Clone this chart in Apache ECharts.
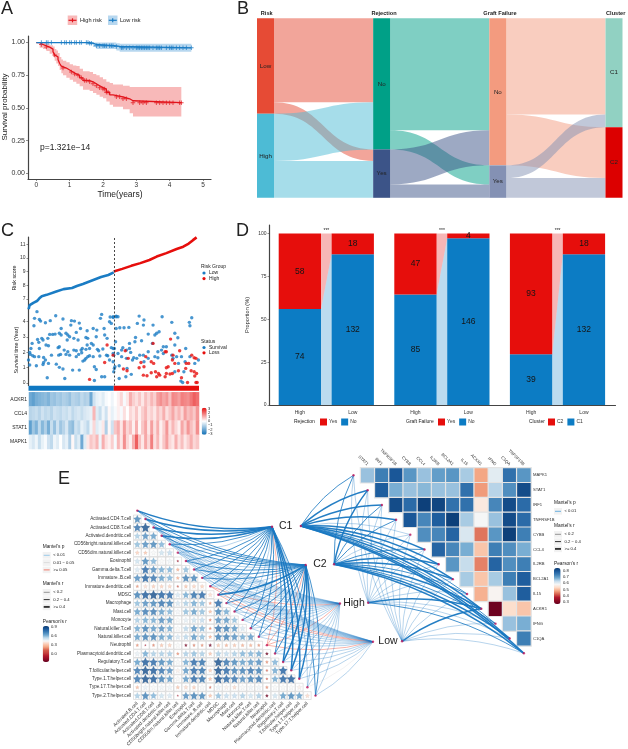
<!DOCTYPE html>
<html>
<head>
<meta charset="utf-8">
<style>html,body{margin:0;padding:0;background:#fff}#main{width:628px;height:749px}</style>
<script src="https://cdn.jsdelivr.net/npm/echarts@6/dist/echarts.min.js"></script>
</head>
<body>
<div id="main"></div>
<script>
// ---- panel A: survival
var highTime  = [0,0.1,0.2,0.3,0.4,0.5,0.55,0.6,0.65,0.7,0.75,0.8,0.9,1.0,1.1,1.2,1.3,1.4,1.6,1.7,1.8,1.9,2.0,2.1,2.2,2.3,2.6,2.8,2.9,4.35];
var highSurv  = [1,0.985,0.975,0.965,0.95,0.93,0.905,0.89,0.87,0.84,0.82,0.805,0.79,0.775,0.76,0.75,0.73,0.71,0.70,0.685,0.67,0.655,0.645,0.62,0.60,0.585,0.57,0.555,0.54,0.54];
var highUpper = [1,1,1,0.99,0.98,0.97,0.95,0.94,0.92,0.89,0.87,0.86,0.85,0.835,0.825,0.82,0.80,0.78,0.775,0.76,0.75,0.735,0.72,0.70,0.69,0.68,0.67,0.66,0.66,0.66];
var highLower = [1,0.96,0.95,0.935,0.915,0.89,0.86,0.84,0.82,0.79,0.765,0.75,0.73,0.715,0.70,0.685,0.665,0.64,0.63,0.615,0.60,0.585,0.575,0.55,0.525,0.51,0.49,0.46,0.435,0.435];
var highCensor = [0.15,0.3,0.55,0.8,1.05,1.15,1.25,1.35,1.45,1.5,1.6,1.7,1.8,1.9,2.0,2.05,2.1,2.15,2.4,2.5,2.6,2.7,2.9,3.1,3.2,3.3,3.6,3.7,3.8,3.9,4.0,4.1,4.3,4.35];
var lowTime  = [0,1.6,1.7,1.8,2.4,2.5,4.65];
var lowSurv  = [1,0.995,0.985,0.975,0.97,0.96,0.96];
var lowUpper = [1,1,1,1,0.995,0.99,0.99];
var lowLower = [1,0.985,0.965,0.95,0.94,0.93,0.93];
var lowCensor = [0.15,0.3,0.35,0.45,0.75,0.85,0.9,1.0,1.05,1.15,1.2,1.3,1.35,1.5,1.55,1.6,1.65,1.8,1.9,2.0,2.05,2.1,2.2,2.25,2.3,2.4,2.55,2.6,2.7,2.8,2.9,3.0,3.05,3.1,3.15,3.2,3.25,3.3,3.35,3.4,3.5,3.6,3.65,3.7,3.75,3.9,4.0,4.05,4.1,4.2,4.3,4.4,4.5,4.65];

// ---- panel B: alluvial counts
var riskToRejection = [['Low','Rejection No',132],['Low','Rejection Yes',18],['High','Rejection No',74],['High','Rejection Yes',58]];
var rejectionToGraft = [['Rejection No','Graft No',176],['Rejection No','Graft Yes',30],['Rejection Yes','Graft No',55],['Rejection Yes','Graft Yes',21]];
var graftToCluster = [['Graft No','C1',151],['Graft No','C2',80],['Graft Yes','C1',20],['Graft Yes','C2',31]];
var alluvialNodes = ['Low','High','Rejection No','Rejection Yes','Graft No','Graft Yes','C1','C2'];
var alluvialColors = ['#E64B35','#4DBBD5','#00A087','#3C5488','#F39B7F','#8491B4','#91D1C2','#DC0000'];

// ---- panel C: risk curve [rank, score]
var scoreLow = [[0,6.2],[1,6.4],[2,6.55],[3,6.65],[8,6.72],[14,6.85],[18,7.05],[22,7.2],[30,7.3],[46,7.55],[58,7.72],[72,7.8],[80,7.95],[90,8.1],[105,8.35],[120,8.6],[132,8.75],[141,8.95]];
var scoreHigh = [[141,9.0],[155,9.2],[170,9.42],[185,9.62],[200,9.85],[212,10.1],[228,10.35],[245,10.65],[256,10.82],[265,11.05],[272,11.3],[278,11.5]];
// [rank, years]
var survivalAlive = [[14,4.66],[18,4.15],[10,4.22],[20,4.04],[9,3.74],[28,3.93],[36,4.07],[45,4.39],[57,4.18],[71,4.07],[76,4.04],[70,3.78],[84,3.91],[86,3.56],[97,3.41],[107,3.56],[113,3.45],[121,4.48],[119,4.22],[125,3.56],[135,4.31],[134,4.0],[140,4.33],[145,4.37],
[15,2.84],[22,2.91],[24,2.8],[6,2.58],[4,2.25],[17,2.65],[18,2.25],[32,2.91],[35,3.17],[40,3.17],[44,3.19],[51,3.24],[54,3.56],[62,3.24],[65,3.13],[68,3.02],[64,2.8],[54,3.13],[75,2.91],[79,3.3],[82,2.8],[95,2.97],[98,2.91],[97,2.47],[112,3.02],[126,3.13],[130,2.91],[107,2.47],[104,2.58],[29,2.47],[33,2.43],[49,2.3],[51,2.36],[59,2.14],[65,2.03],[75,2.14],[79,2.1],[87,2.14],[89,2.25],[95,2.19],[101,2.25],[83,1.86],[88,1.97],[114,2.19],[116,2.1],[123,2.21],[137,2.3],[144,2.69],
[2,1.99],[3,1.86],[7,1.77],[10,1.71],[17,1.71],[25,1.66],[28,1.49],[38,1.81],[50,1.81],[53,1.86],[62,1.86],[68,1.81],[79,1.71],[90,1.42],[93,1.49],[95,1.6],[98,1.71],[101,1.77],[107,1.71],[118,1.75],[129,1.81],[131,1.77],[140,1.92],[142,2.25],[0,1.49],[2,1.16],[13,1.11],[24,1.2],[25,1.33],[33,1.27],[46,1.22],[51,1.01],[57,0.9],[73,0.83],[84,0.83],[109,1.05],[112,0.87],[134,1.49],[140,1.38],[142,0.94],[31,0.33],[60,0.28],[109,0.15],[121,0.39],[126,0.39],
[140,4.28],[145,4.33],[148,4.33],[137,3.89],[145,3.56],[151,3.61],[158,3.61],[166,3.63],[183,4.37],[191,4.11],[180,3.89],[190,3.78],[206,3.78],[221,4.33],[237,3.96],[266,3.96],[270,4.26],[267,3.74],[216,3.34],[212,3.24],[209,3.13],[198,3.19],[242,3.24],[247,2.95],[177,2.97],[187,2.75],[176,2.69],[167,2.58],[198,2.03],[205,2.58],[214,2.03],[220,2.14],[223,2.36],[228,2.36],[242,2.47],[260,2.25],[156,2.3],[154,2.14],[148,1.92],[162,2.14],[167,2.25],[169,1.99],[162,1.6],[154,1.71],[174,1.64],[172,1.49],[179,1.6],[184,1.81],[190,1.81],[198,1.6],[209,1.71],[214,1.64],[223,1.92],[237,1.81],[239,1.6],[245,1.71],[253,1.71],[259,1.38],[267,1.71],[281,1.49],[140,2.25],[141,1.81],[143,1.05],[150,1.11],[163,0.94],[161,0.39],[170,0.55],[150,0.28],[141,0.72],[191,1.38],[248,1.27],[252,0.11],[255,0.02],[257,0.72],[242,0.72],[275,1.27]];
var survivalLost = [[130,2.47],[140,1.81],[126,1.33],[101,0.22],[160,2.1],[165,1.6],[157,0.9],[163,0.79],[186,1.33],[183,0.98],[191,1.05],[206,2.58],[235,2.86],[194,1.71],[203,1.38],[207,1.27],[190,0.5],[196,0.46],[203,0.66],[210,0.72],[212,0.39],[217,0.5],[215,0.61],[228,0.61],[231,1.05],[228,0.98],[226,2.03],[228,2.03],[239,1.81],[238,1.49],[242,1.27],[248,0.79],[253,0.33],[234,0.57],[238,0.61],[250,2.1],[261,1.27],[265,1.27],[270,1.81],[274,1.64],[277,1.6],[269,0.79],[274,0.72],[278,0.61],[277,0.02],[279,0.02],[263,0.02],[260,0.94],[275,0.44],[226,0.39]];
var groupLow = [141], groupHigh = [141];
var geneRows = ['ACKR1','CCL4','STAT1','MAPK1'];
var ackr1 = [-1.8,-2,-1.7,-1.6,-1.5,-1.4,-1.6,-1.2,-1.3,-1.1,-1.2,-1,-1.1,-1.3,-0.9,-1,-1.1,-0.8,-1,-0.9,-1.8,-0.6,-0.3,-0.2,-0.4,-0.1,0,-0.2,0,0.2,0.5,-0.1,0.3,1,0.6,0.4,0.7,0.3,0.8,0.5,0.9,0.6,1.2,1.4,1.1,1.3,0.8,1.5,1.4,1.2,1.6,1.5,1.4,1.7,2.0,1.8];
var ccl4 = [-0.9,-0.8,-0.7,-0.9,-0.6,-0.8,-0.7,-0.9,-0.6,-0.7,-0.8,-0.6,-0.7,-0.5,-0.8,-0.6,-0.5,-0.7,-0.5,-0.4,-0.3,0.9,-0.4,-0.7,-0.2,-0.6,0.1,-0.3,-0.1,0.2,-0.1,0.4,0,0.5,0.3,0.7,0.2,0.6,0.9,0.4,0.6,0.3,0.8,0.5,1,0.4,0.7,1.1,0.6,0.9,0.5,1.2,0.8,1.0,0.7,1.3];
var stat1 = [-2,-1.2,-1.6,-0.8,-1.5,-1,-1.7,-0.7,-1.3,-0.6,-1.2,-0.9,-0.5,-1.2,-1.4,-0.6,-0.8,-0.3,-0.5,-0.8,-0.2,0.5,-0.4,-0.2,0.3,-1,0.1,-0.6,0.7,1,0.3,1.2,0.5,0.8,0.2,1.0,0.1,0.7,1.1,0.3,1.2,0.4,1.0,0.2,0.6,1.3,0.4,0.9,0.5,0.2,1.1,0.6,1.3,0.8,0.5,1.4];
var mapk1 = [-0.3,-0.5,-0.2,-0.7,-0.3,-0.1,-0.6,-0.8,-0.2,-0.4,0,-0.5,-0.3,-1.0,0.1,-0.7,-0.4,-1.8,-0.4,0.3,0.7,0.5,0.9,-0.2,1.0,0.4,0.2,0.6,-0.1,0.9,0.3,1.4,0.5,0.2,1.0,2.0,0.8,0.3,1.1,0.5,1.6,0.4,0.9,0.2,0.7,1.2,0.5,0.3,1.0,0.4,0.8,0.3,0.6,1.0,0.5,0.7];

// ---- panel D: counts [High, Low]
var rejectionNo = [74,132], rejectionYes = [58,18];
var graftNo = [85,146], graftYes = [47,4];
var clusterOne = [39,132], clusterTwo = [93,18];

// ---- panel E left: immune cells
var cellCols = ['Activated.B.cell','Activated.CD4.T.cell','Activated.CD8.T.cell','Activated.dendritic.cell','CD56bright.natural.killer.cell','CD56dim.natural.killer.cell','Eosinophil','Gamma.delta.T.cell','Immature..B.cell','Immature.dendritic.cell','MDSC','Macrophage','Mast.cell','Monocyte','Natural.killer.T.cell','Natural.killer.cell','Neutrophil','Plasmacytoid.dendritic.cell','Regulatory.T.cell','T.follicular.helper.cell','Type.1.T.helper.cell','Type.17.T.helper.cell'];
var cellRows = ['Activated.CD4.T.cell','Activated.CD8.T.cell','Activated.dendritic.cell','CD56bright.natural.killer.cell','CD56dim.natural.killer.cell','Eosinophil','Gamma.delta.T.cell','Immature..B.cell','Immature.dendritic.cell','MDSC','Macrophage','Mast.cell','Monocyte','Natural.killer.T.cell','Natural.killer.cell','Neutrophil','Plasmacytoid.dendritic.cell','Regulatory.T.cell','T.follicular.helper.cell','Type.1.T.helper.cell','Type.17.T.helper.cell','Type.2.T.helper.cell'];
var cellCorr = [
[0.7],
[0.75,0.85],
[0.55,0.68,0.65],
[0.58,0.68,0.7,0.6],
[0.33,0.3,0.42,0.5,0.52],
[0.5,0.7,0.6,0.42,0.44,-0.1],
[0.48,0.78,0.68,0.62,0.6,0.25,0.58],
[0.68,0.8,0.75,0.65,0.6,0.25,0.72,0.7],
[0.2,0.36,0.32,0.33,0.34,0.12,0.3,0.33,0.33],
[0.72,0.82,0.85,0.8,0.78,0.48,0.62,0.76,0.78,0.36],
[0.58,0.68,0.7,0.75,0.72,0.48,0.55,0.62,0.58,0.2,0.78],
[0.65,0.73,0.73,0.65,0.6,0.43,0.58,0.65,0.58,0.28,0.7,0.62],
[0.55,0.62,0.62,0.68,0.65,0.42,0.46,0.5,0.52,0.18,0.68,0.66,0.58],
[0.62,0.72,0.66,0.68,0.62,0.42,0.53,0.66,0.6,0.18,0.74,0.72,0.66,0.48],
[0.65,0.72,0.72,0.65,0.62,0.48,0.53,0.66,0.58,0.25,0.72,0.72,0.68,0.62,0.66],
[0.2,-0.05,0.18,0.3,0.33,0.42,-0.2,0.18,0.2,-0.22,0.3,0.25,0.3,0.25,0.25,0.2],
[0.45,0.62,0.55,0.55,0.55,0.2,0.55,0.58,0.55,0.3,0.55,0.52,0.55,0.6,0.6,0.62,-0.22],
[0.65,0.82,0.78,0.7,0.65,0.42,0.62,0.78,0.76,0.42,0.85,0.75,0.7,0.65,0.66,0.68,0.2,0.6],
[0.75,0.85,0.82,0.75,0.68,0.4,0.66,0.78,0.76,0.32,0.85,0.78,0.72,0.72,0.75,0.72,0.15,0.62,0.8],
[0.75,0.85,0.82,0.72,0.66,0.42,0.66,0.78,0.76,0.3,0.85,0.78,0.75,0.68,0.72,0.74,0.12,0.62,0.8,0.82],
[0.28,0.45,0.42,0.44,0.44,0.3,0.35,0.32,0.42,0.15,0.45,0.4,0.35,0.42,0.44,0.44,0.2,0.42,0.42,0.42,0.4],
[0.55,0.72,0.6,0.5,0.48,-0.05,0.68,0.72,0.7,0.3,0.58,0.52,0.52,0.55,0.5,0.55,-0.22,0.5,0.65,0.7,0.65,0.35]
];
// mantel r from each group to the 23 cell types
var mantelCellC1 = [0.42,0.45,0.45,0.42,0.35,0.15,0.3,0.3,0.35,0.25,0.35,0.3,0.35,0.15,0.25,0.35,0.06,0.3,0.45,0.45,0.45,0.15,0.3];
var mantelCellC2 = [0.28,0.3,0.32,0.3,0.2,0.12,0.25,0.25,0.3,0.15,0.42,0.3,0.3,0.25,0.3,0.32,0.07,0.3,0.42,0.42,0.42,0.15,0.35];
var mantelCellHigh = [0.15,0.18,0.18,0.16,0.14,0.13,0.15,0.15,0.16,0.05,0.12,0.14,0.16,0.14,0.15,0.16,0.06,0.14,0.18,0.18,0.18,0.13,0.15];
var mantelCellLow = [0.15,0.18,0.18,0.17,0.15,0.14,0.16,0.16,0.16,0.06,0.07,0.15,0.16,0.14,0.15,0.16,0.05,0.14,0.18,0.18,0.18,0.11,0.15];

// ---- panel E right: genes
var geneCols = ['STAT1','IRF1','TNFRSF1B','CYBB','CCL4','IL2RB','BCL2A1','IL15','ACKR1','IFNG','C1QA','TNFSF13B'];
var geneNames = ['MAPK1','STAT1','IRF1','TNFRSF1B','CYBB','CCL4','IL2RB','BCL2A1','IL15','ACKR1','IFNG','C1QA'];
var geneCorr = [
[0.66,0.74,0.8,0.71,0.66,0.7,0.71,0.65,0.47,0.6,0.76,0.71],
[0.79,0.68,0.66,0.67,0.66,0.66,0.76,0.46,0.64,0.72,0.82],
[0.82,0.77,0.84,0.83,0.76,0.76,0.55,0.73,0.82,0.77],
[0.8,0.73,0.79,0.84,0.65,0.58,0.66,0.82,0.77],
[0.72,0.73,0.78,0.61,0.43,0.71,0.84,0.74],
[0.78,0.73,0.68,0.5,0.74,0.72,0.68],
[0.71,0.63,0.44,0.78,0.72,0.74],
[0.65,0.5,0.65,0.74,0.79],
[0.48,0.57,0.66,0.79],
[0.26,0.53,0.5],
[0.66,0.68],
[0.74]
];
var mantelGeneC1 = [0.3,0.42,0.42,0.42,0.18,0.42,0.42,0.42,0.3,0.42,0.3,0.42,0.42];
var mantelGeneC2 = [0.3,0.42,0.3,0.3,0.18,0.35,0.4,0.42,0.3,0.42,0.3,0.42,0.42];
var mantelGeneHigh = [0.15,0.15,0.18,0.15,0.15,0.18,0.15,0.18,0.18,0.42,0.18,0.18,0.2];
var mantelGeneLow = [0.16,0.15,0.15,0.15,0.15,0.15,0.16,0.15,0.15,0.42,0.16,0.15,0.16];

var RED = '#e60e0c', BLUE = '#0c7cc4';
var FONT = '"Liberation Sans", Arial, sans-serif';
var CROSS = 'path://M4 0H6V4H10V6H6V10H4V6H0V4H4Z';
var STAR = 'path://M50 2L65 31L98 36L74 59L80 92L50 76L20 92L26 59L2 36L35 31Z';

var grids = [], xAxes = [], yAxes = [], series = [], graphics = [];

function addGrid(rect, x, y) {
    rect.containLabel = false;
    grids.push(rect);
    x.gridIndex = grids.length - 1;
    y.gridIndex = grids.length - 1;
    xAxes.push(x);
    yAxes.push(y);
    return grids.length - 1;
}
function hidden(min, max, inverse) {
    return {type: 'value', min: min, max: max, inverse: !!inverse, show: false};
}
function shownValue(min, max, ticks, size, fmt) {
    return {type: 'value', min: min, max: max, splitLine: {show: false},
        axisLine: {show: true, onZero: false, lineStyle: {color: '#444', width: 1.2}},
        axisTick: {show: true, length: 2, lineStyle: {color: '#444', width: 0.6}, customValues: ticks},
        axisLabel: {fontSize: size, color: '#333', margin: 3, customValues: ticks, formatter: fmt, hideOverlap: false, showMinLabel: true, showMaxLabel: true}};
}
function text(x, y, str, size, opt) {
    opt = opt || {};
    graphics.push({type: 'text', x: x, y: y, rotation: opt.rot || 0, silent: true, z: 50, style: {
        text: str, fill: opt.color || '#222', textAlign: opt.align || 'left', textVerticalAlign: 'middle',
        font: (opt.bold ? 'bold ' : '') + size + 'px ' + FONT}});
}
function keyRect(x, y, w, h, color) {
    graphics.push({type: 'rect', silent: true, z: 49, shape: {x: x, y: y, width: w, height: h}, style: {fill: color}});
}
function keyLine(x1, x2, y, color, width, y2) {
    graphics.push({type: 'line', silent: true, z: 50, shape: {x1: x1, y1: y, x2: x2, y2: y2 === undefined ? y : y2}, style: {stroke: color, lineWidth: width}});
}
function keyDot(x, y, color) {
    graphics.push({type: 'circle', silent: true, z: 50, shape: {cx: x, cy: y, r: 1.6}, style: {fill: color}});
}
function stepValue(times, values, t) {
    var v = values[0];
    for (var i = 0; i < times.length; i++) { if (times[i] <= t) v = values[i]; }
    return v;
}
function censorPoints(times, values, censored) {
    return censored.map(function (t) { return [t, stepValue(times, values, t)]; });
}
function stepBand(gi, times, upper, lower, color) {
    return {type: 'custom', xAxisIndex: gi, yAxisIndex: gi, silent: true, z: 1, data: [[0, 0]],
        renderItem: function (params, api) {
            var pts = [], i;
            for (i = 0; i < times.length - 1; i++) {
                pts.push(api.coord([times[i], upper[i]]), api.coord([times[i + 1], upper[i]]));
            }
            for (i = times.length - 2; i >= 0; i--) {
                pts.push(api.coord([times[i + 1], lower[i]]), api.coord([times[i], lower[i]]));
            }
            return {type: 'polygon', shape: {points: pts}, style: {fill: color}};
        }};
}

// ---------- A
var gA = addGrid({left: 28, top: 36, width: 183, height: 143},
    shownValue(-0.25, 5.24, [0, 1, 2, 3, 4, 5], 6.5),
    shownValue(-0.043, 1.05, [0, 0.25, 0.5, 0.75, 1], 7, function (v) { return v.toFixed(2); }));
series.push(stepBand(gA, highTime, highUpper, highLower, 'rgba(235,60,60,0.36)'));
series.push(stepBand(gA, lowTime, lowUpper, lowLower, 'rgba(30,130,205,0.32)'));
[[highTime, highSurv, highCensor, '#e2141c', 'High risk'], [lowTime, lowSurv, lowCensor, '#1a7cc4', 'Low risk']].forEach(function (k) {
    series.push({type: 'line', name: k[4], xAxisIndex: gA, yAxisIndex: gA, step: 'end', showSymbol: false, z: 3, silent: true,
        lineStyle: {color: k[3], width: 1.3},
        data: k[0].map(function (t, i) { return [t, k[1][i]]; })});
    series.push({type: 'scatter', xAxisIndex: gA, yAxisIndex: gA, symbol: CROSS, symbolSize: 4.5, z: 3, silent: true,
        itemStyle: {color: k[3]}, data: censorPoints(k[0], k[1], k[2])});
});
text(1, 9, 'A', 18);
text(5, 107, 'Survival probability', 8, {rot: Math.PI / 2, align: 'center'});
text(120, 195, 'Time(years)', 8.5, {align: 'center'});
text(40, 148, 'p=1.321e\u221214', 8.5);
keyRect(67.7, 15.5, 9.5, 9.5, 'rgba(235,60,60,0.36)'); keyLine(68.5, 76.5, 20.3, '#e2141c', 1.2); keyLine(72.5, 72.5, 18.3, '#e2141c', 1.2, 22.3);
text(80, 20.3, 'High risk', 5.6);
keyRect(108, 15.5, 9.5, 9.5, 'rgba(30,130,205,0.32)'); keyLine(108.8, 116.8, 20.3, '#1a7cc4', 1.2); keyLine(112.7, 112.7, 18.3, '#1a7cc4', 1.2, 22.3);
text(120, 20.3, 'Low risk', 5.6);

// ---------- B
var alluvialLabels = {'Rejection No': 'No', 'Rejection Yes': 'Yes', 'Graft No': 'No', 'Graft Yes': 'Yes'};
series.push({type: 'sankey', left: 257, top: 18.3, width: 365.5, height: 179.5, nodeWidth: 17, nodeGap: 0, layoutIterations: 0,
    draggable: false, silent: true, emphasis: {disabled: true},
    label: {position: 'inside', fontSize: 6.2, color: '#222', formatter: function (p) { return alluvialLabels[p.name] || p.name; }},
    lineStyle: {color: 'source', opacity: 0.5, curveness: 0.5},
    itemStyle: {borderWidth: 0},
    data: alluvialNodes.map(function (n, i) { return {name: n, itemStyle: {color: alluvialColors[i]}}; }),
    links: riskToRejection.concat(rejectionToGraft, graftToCluster).map(function (l) { return {source: l[0], target: l[1], value: l[2]}; })
});
text(237, 9, 'B', 18);
text(266.7, 13.5, 'Risk', 5.6, {bold: true, align: 'center'});
text(384, 13.5, 'Rejection', 5.6, {bold: true, align: 'center'});
text(500, 13.5, 'Graft Failure', 5.6, {bold: true, align: 'center'});
text(615.7, 13.5, 'Cluster', 5.6, {bold: true, align: 'center'});

// ---------- C
var gRisk = addGrid({left: 28.5, top: 237, width: 170.5, height: 71}, hidden(0, 282),
    shownValue(6.34, 11.53, [7, 8, 9, 10, 11], 5));
var gSurv = addGrid({left: 28.5, top: 308, width: 170.5, height: 77.5}, hidden(0, 282),
    shownValue(-0.18, 4.9, [0, 1, 2, 3, 4], 5));
var dashLine = {symbol: 'none', silent: true, label: {show: false}, lineStyle: {color: '#333', type: [2, 2], width: 0.9}, data: [{xAxis: 141}]};
series.push({type: 'line', xAxisIndex: gRisk, yAxisIndex: gRisk, showSymbol: false, silent: true, lineStyle: {color: '#1a7cc4', width: 2.6}, data: scoreLow, markLine: dashLine});
series.push({type: 'line', xAxisIndex: gRisk, yAxisIndex: gRisk, showSymbol: false, silent: true, lineStyle: {color: RED, width: 2.6}, data: scoreHigh});
series.push({type: 'scatter', xAxisIndex: gSurv, yAxisIndex: gSurv, symbolSize: 3.4, silent: true, itemStyle: {color: '#1a7cc4'}, data: survivalAlive, markLine: dashLine});
series.push({type: 'scatter', xAxisIndex: gSurv, yAxisIndex: gSurv, symbolSize: 3.4, silent: true, itemStyle: {color: RED}, data: survivalLost});
var gBar = addGrid({left: 28.5, top: 385.7, width: 170.5, height: 5}, hidden(0, 282),
    {type: 'category', data: ['group'], show: false});
series.push({type: 'bar', xAxisIndex: gBar, yAxisIndex: gBar, stack: 'g', barWidth: 5, silent: true, itemStyle: {color: '#0f78c2'}, data: groupLow});
series.push({type: 'bar', xAxisIndex: gBar, yAxisIndex: gBar, stack: 'g', barWidth: 5, silent: true, itemStyle: {color: RED}, data: groupHigh});
var heatCols = ackr1.map(function (v, i) { return i; });
var gHeat = addGrid({left: 29, top: 392.3, width: 170, height: 56.7},
    {type: 'category', data: heatCols, show: false},
    {type: 'category', data: geneRows, inverse: true, axisLine: {show: false}, axisTick: {show: false}, axisLabel: {fontSize: 5, color: '#222', margin: 2}});
var heatData = [];
[ackr1, ccl4, stat1, mapk1].forEach(function (row, r) {
    row.forEach(function (v, c) { heatData.push([c, r, v]); });
});
var heatIdx = series.push({type: 'heatmap', xAxisIndex: gHeat, yAxisIndex: gHeat, silent: true, data: heatData}) - 1;
text(1, 231, 'C', 18);
text(14.7, 278, 'Risk score', 5.4, {rot: Math.PI / 2, align: 'center'});
text(17, 350, 'Survival time (Year)', 5.4, {rot: Math.PI / 2, align: 'center'});
text(201, 267, 'Risk Group', 5);
keyDot(204, 273, '#1a7cc4'); text(209, 273, 'Low', 5);
keyDot(204, 278.6, RED); text(209, 278.6, 'High', 5);
text(201, 341.5, 'Status', 5);
keyDot(204, 347.5, '#1a7cc4'); text(209, 347.5, 'Survival', 5);
keyDot(204, 352.8, RED); text(209, 352.8, 'Loss', 5);
[3, 2, 1, 0, -1, -2, -3].forEach(function (v, i) {
    text(208, 408.5 + i * 4.2, String(v).replace('-', '\u2212'), 4);
});

// ---------- D
var gDAxis = addGrid({left: 269.5, top: 225, width: 346, height: 180}, hidden(0, 1),
    shownValue(0, 105, [0, 25, 50, 75, 100], 5));
xAxes[gDAxis] = {type: 'value', gridIndex: gDAxis, min: 0, max: 1, axisLine: {show: true, lineStyle: {color: '#444', width: 1.2}}, axisTick: {show: false}, axisLabel: {show: false}, splitLine: {show: false}};
series.push({type: 'line', xAxisIndex: gDAxis, yAxisIndex: gDAxis, data: [], silent: true});
var BAR_W = 42.3;
[[273.4, rejectionNo, rejectionYes, 'No', 'Yes'], [389, graftNo, graftYes, 'No', 'Yes'], [504.6, clusterOne, clusterTwo, 'C1', 'C2']].forEach(function (g) {
    var gi = addGrid({left: g[0], top: 225, width: 105.8, height: 180},
        {type: 'category', data: ['High', 'Low'], axisLine: {show: false}, axisTick: {show: false}, axisLabel: {fontSize: 5, color: '#333', margin: 5}},
        {type: 'value', min: 0, max: 105, show: false});
    var pct = function (arr, i) { return arr[i] * 100 / (g[1][i] + g[2][i]); };
    var bottom = g[1].map(function (n, i) { return pct(g[1], i); });
    var cnt = function (arr) {
        return arr.map(function (n, i) { return {value: pct(arr, i), count: n}; });
    };
    var lab = {show: true, position: 'inside', fontSize: 8.5, color: '#151515', formatter: function (p) { return p.data.count; }};
    series.push({type: 'bar', name: g[3], xAxisIndex: gi, yAxisIndex: gi, stack: 'stack' + gi, barWidth: BAR_W, silent: true, itemStyle: {color: BLUE}, label: lab, data: cnt(g[1])});
    series.push({type: 'bar', name: g[4], xAxisIndex: gi, yAxisIndex: gi, stack: 'stack' + gi, barWidth: BAR_W, silent: true, itemStyle: {color: RED}, label: lab, data: cnt(g[2])});
    series.push({type: 'custom', xAxisIndex: gi, yAxisIndex: gi, silent: true, data: [[0, 0]],
        renderItem: function (params, api) {
            var l0 = api.coord(['High', 0]), l1 = api.coord(['High', bottom[0]]), r1 = api.coord(['Low', bottom[1]]), t = api.coord(['High', 100]);
            var xl = l0[0] + BAR_W / 2, xr = api.coord(['Low', 0])[0] - BAR_W / 2;
            return {type: 'group', children: [
                {type: 'polygon', shape: {points: [[xl, l0[1]], [xl, l1[1]], [xr, r1[1]], [xr, l0[1]]]}, style: {fill: 'rgba(12,124,196,0.28)'}},
                {type: 'polygon', shape: {points: [[xl, l1[1]], [xl, t[1]], [xr, t[1]], [xr, r1[1]]]}, style: {fill: 'rgba(230,14,12,0.3)'}}
            ]};
        }});
    text(g[0] + 53, 231, '***', 5, {align: 'center'});
});
text(236, 231, 'D', 18);
text(247.7, 315, 'Proportion (%)', 5.6, {rot: Math.PI / 2, align: 'center'});
text(294, 422, 'Rejection', 5);
text(406, 422, 'Graft Failure', 5);
text(529, 422, 'Cluster', 5);
var dLegend = function (left, names) {
    return {left: left, top: 418.5, itemWidth: 7, itemHeight: 7, itemGap: 4, padding: 0, selectedMode: false, icon: 'rect',
        data: names, textStyle: {fontSize: 5, color: '#333', padding: [0, 0, 0, -3]}};
};

// ---------- E left
var EL = {left: 133.25, top: 514.8, width: 178.2, height: 185};
var gCell = addGrid({left: EL.left, top: EL.top, width: EL.width, height: EL.height},
    {type: 'category', data: cellCols, axisLine: {show: false}, axisTick: {show: false}, axisLabel: {interval: 0, rotate: 45, fontSize: 4.8, color: '#333', margin: 3}},
    {type: 'category', data: cellRows, inverse: true, axisLine: {show: false}, axisTick: {show: false}, axisLabel: {interval: 0, fontSize: 4.6, color: '#333', margin: 2}});
var cellData = [];
cellCorr.forEach(function (row, r) {
    row.forEach(function (v, c) { cellData.push([c, r, v]); });
});
series.push({type: 'scatter', xAxisIndex: gCell, yAxisIndex: gCell, silent: true, symbol: 'rect', symbolSize: [7.6, 7.9],
    itemStyle: {color: '#fff', borderColor: '#cfcfcf', borderWidth: 0.7}, data: cellData.map(function (d) { return [d[0], d[1]]; })});
var starIdx = series.push({type: 'scatter', xAxisIndex: gCell, yAxisIndex: gCell, silent: true, symbol: STAR, z: 3,
    symbolSize: function (d) { return 1.6 + Math.abs(d[2]) * 9; },
    itemStyle: {borderColor: '#a8b0b8', borderWidth: 0.15}, data: cellData}) - 1;

function linkColor(r) { return r < 0.1 ? '#f2705f' : r < 0.12 ? '#d9d9d9' : '#1877c1'; }
function linkWidth(r) { return r < 0.1 ? 0.75 : r < 0.2 ? 0.45 : r < 0.4 ? 0.85 : 1.5; }
function addNetwork(gi, hubs, mantels, targetAt) {
    var links = [], dots = [];
    mantels[0].forEach(function (m, k) { dots.push(targetAt(k)); });
    hubs.forEach(function (h, i) {
        dots.push(h);
        mantels[i].forEach(function (r, k) {
            var t = targetAt(k);
            links.push([h[0], h[1], t[0], t[1], r]);
        });
    });
    links.sort(function (a, b) { return a[4] - b[4]; });
    series.push({type: 'custom', xAxisIndex: gi, yAxisIndex: gi, silent: true, clip: false, z: 5, data: links,
        renderItem: function (params, api) {
            var a = api.coord([api.value(0), api.value(1)]), b = api.coord([api.value(2), api.value(3)]), r = api.value(4);
            var dx = b[0] - a[0], dy = b[1] - a[1];
            return {type: 'bezierCurve', shape: {x1: a[0], y1: a[1], x2: b[0], y2: b[1],
                cpx1: (a[0] + b[0]) / 2 + dy * 0.12, cpy1: (a[1] + b[1]) / 2 - dx * 0.12},
                style: {stroke: linkColor(r), lineWidth: linkWidth(r), fill: null, opacity: r < 0.2 ? 0.7 : 0.95}};
        }});
    series.push({type: 'scatter', xAxisIndex: gi, yAxisIndex: gi, silent: true, clip: false, z: 6, symbolSize: 2.4,
        itemStyle: {color: '#c2185b'}, data: dots});
}
var gCellNet = addGrid({left: EL.left, top: EL.top, width: EL.width, height: EL.height}, hidden(-0.5, 21.5), hidden(-0.5, 21.5, true));
addNetwork(gCellNet, [[16.63, 0.92], [20.79, 5.47], [25.02, 10.05], [29.1, 14.59]],
    [mantelCellC1, mantelCellC2, mantelCellHigh, mantelCellLow],
    function (k) { return [k, k - 1]; });

// ---------- E right
var ER = {left: 360.6, top: 467.9, width: 170.4, height: 178};
var gGene = addGrid({left: ER.left, top: ER.top, width: ER.width, height: ER.height},
    {type: 'category', position: 'top', data: geneCols, axisLine: {show: false}, axisTick: {show: false}, axisLabel: {interval: 0, rotate: 45, fontSize: 4.2, color: '#333', margin: 3}},
    {type: 'category', position: 'right', data: geneNames, inverse: true, axisLine: {show: false}, axisTick: {show: false}, axisLabel: {interval: 0, fontSize: 4.2, color: '#333', margin: 2}});
var geneData = [];
geneCorr.forEach(function (row, r) {
    row.forEach(function (v, k) { geneData.push([r + k, r, v]); });
});
var geneIdx = series.push({type: 'heatmap', xAxisIndex: gGene, yAxisIndex: gGene, silent: true, data: geneData,
    itemStyle: {borderColor: '#e4e4e4', borderWidth: 1.2}}) - 1;
var gGeneNet = addGrid({left: ER.left, top: ER.top, width: ER.width, height: ER.height}, hidden(-0.5, 11.5), hidden(-0.5, 11.5, true));
addNetwork(gGeneNet, [[-4.71, 3.42], [-2.37, 6], [0.03, 8.59], [2.42, 11.19]],
    [mantelGeneC1, mantelGeneC2, mantelGeneHigh, mantelGeneLow],
    function (k) { return [k - 1, k]; });

text(58, 479, 'E', 18);
text(285.7, 526, 'C1', 10.5, {align: 'center'});
text(320, 564.5, 'C2', 10.5, {align: 'center'});
text(354, 603, 'High', 10.5, {align: 'center'});
text(388, 641.5, 'Low', 10.5, {align: 'center'});

function mantelKey(x, yP, ps, yR, yPear) {
    text(x, yP, "Mantel's p", 4.8);
    ps.forEach(function (p, i) {
        keyRect(x, yP + 5 + i * 7.3, 8, 6.6, '#f2f2f2');
        keyLine(x + 1, x + 7, yP + 8.3 + i * 7.3, p[1], 0.9);
        text(x + 10.5, yP + 8.3 + i * 7.3, p[0], 4.2);
    });
    text(x, yR, "Mantel's r", 4.8);
    [['< 0.2', 0.5], ['0.2 \u2212 0.4', 1], ['>= 0.4', 1.9]].forEach(function (k, i) {
        keyRect(x, yR + 5 + i * 7.3, 8, 6.6, '#f2f2f2');
        keyLine(x + 1, x + 7, yR + 8.3 + i * 7.3, '#333', k[1]);
        text(x + 10.5, yR + 8.3 + i * 7.3, k[0], 4.2);
    });
    text(x, yPear, "Pearson's r", 4.8);
}
mantelKey(42.7, 547, [['< 0.01', '#8ec5e8'], ['0.01 \u2212 0.05', '#d9d9d9'], ['>= 0.05', '#f2705f']], 584, 621.7);
mantelKey(554, 503, [['< 0.01', '#5aa7dd']], 526, 563.7);
[['0.9', 627], ['0.6', 635.7], ['0.3', 644.7], ['0.0', 653.7]].forEach(function (k) { text(51, k[1], k[0], 4.2); });
[['0.8', 571], ['0.7', 577], ['0.6', 583], ['0.5', 589.7], ['0.4', 596], ['0.3', 602]].forEach(function (k) { text(563, k[1], k[0], 4.2); });

var option = {
    animation: false,
    backgroundColor: '#fff',
    textStyle: {fontFamily: FONT},
    grid: grids, xAxis: xAxes, yAxis: yAxes, series: series,
    graphic: graphics,
    legend: [dLegend(320, ['Yes', 'No']), dLegend(438, ['Yes', 'No']), dLegend(548, ['C2', 'C1'])],
    visualMap: [
        {type: 'continuous', seriesIndex: heatIdx, dimension: 2, min: -3, max: 3, calculable: false, left: 201.7, top: 407.7, itemWidth: 5, itemHeight: 27, padding: 0,
            inRange: {color: ['#0f70b7', '#ffffff', '#e60f0f']}},
        {type: 'continuous', seriesIndex: starIdx, dimension: 2, min: -0.25, max: 0.9, calculable: false, left: 42.7, top: 626, itemWidth: 6.6, itemHeight: 36, padding: 0,
            inRange: {color: ['#67001f','#8f0d26','#b2182b','#c6423f','#d6604d','#f4a582','#fbcdb7','#f7f7f7','#c3dcec','#6fa8d0','#3d7eb5','#1c5a9c','#0a3a72']}},
        {type: 'continuous', seriesIndex: geneIdx, dimension: 2, min: 0.25, max: 0.85, calculable: false, left: 554, top: 568, itemWidth: 6.6, itemHeight: 36, padding: 0,
            inRange: {color: ['#67001f','#8a0a22','#b2182b','#d6604d','#f4a582','#fddbc7','#f7f7f7','#c5dcec','#6fa8d0','#3d7eb5','#1c5a9c','#0a3a72']}}
    ]
};
var myChart = echarts.init(document.getElementById('main'));
myChart.setOption(option);
</script>
</body>
</html>
